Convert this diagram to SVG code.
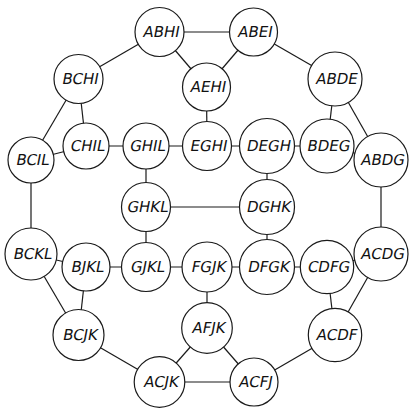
<svg xmlns="http://www.w3.org/2000/svg" width="409" height="408" viewBox="0 0 409 408">
<style>
.e line{stroke:#1a1a1a;stroke-width:1.2}
.n circle{fill:#fff;stroke:#1a1a1a;stroke-width:1.2}
.n text{font-family:"DejaVu Sans",sans-serif;font-style:normal;font-size:15px;text-anchor:middle;fill:#111}
</style>
<rect width="409" height="408" fill="#fff"/>
<g id="connectors" class="e">
<line x1="159.5" y1="32" x2="253.5" y2="32"/>
<line x1="159.5" y1="32" x2="78.5" y2="79"/>
<line x1="159.5" y1="32" x2="206.5" y2="87"/>
<line x1="253.5" y1="32" x2="206.5" y2="87"/>
<line x1="253.5" y1="32" x2="335" y2="79"/>
<line x1="206.5" y1="87" x2="207" y2="146"/>
<line x1="78.5" y1="79" x2="86" y2="146"/>
<line x1="78.5" y1="79" x2="31" y2="160"/>
<line x1="31" y1="160" x2="86" y2="146"/>
<line x1="86" y1="146" x2="146" y2="146"/>
<line x1="146" y1="146" x2="207" y2="146"/>
<line x1="207" y1="146" x2="267" y2="146"/>
<line x1="267" y1="146" x2="327" y2="146"/>
<line x1="335" y1="79" x2="327" y2="146"/>
<line x1="335" y1="79" x2="381" y2="160"/>
<line x1="327" y1="146" x2="381" y2="160"/>
<line x1="146" y1="146" x2="146" y2="207"/>
<line x1="267" y1="146" x2="267" y2="207"/>
<line x1="146" y1="207" x2="267" y2="207"/>
<line x1="31" y1="160" x2="31" y2="254"/>
<line x1="381" y1="160" x2="381" y2="254"/>
<line x1="146" y1="207" x2="146" y2="267"/>
<line x1="267" y1="207" x2="267" y2="267"/>
<line x1="31" y1="254" x2="86" y2="267"/>
<line x1="86" y1="267" x2="146" y2="267"/>
<line x1="146" y1="267" x2="207" y2="267"/>
<line x1="207" y1="267" x2="267" y2="267"/>
<line x1="267" y1="267" x2="327" y2="267"/>
<line x1="327" y1="267" x2="381" y2="254"/>
<line x1="31" y1="254" x2="78.5" y2="335"/>
<line x1="86" y1="267" x2="78.5" y2="335"/>
<line x1="207" y1="267" x2="207" y2="328"/>
<line x1="327" y1="267" x2="335" y2="335"/>
<line x1="381" y1="254" x2="335" y2="335"/>
<line x1="78.5" y1="335" x2="159.5" y2="382"/>
<line x1="207" y1="328" x2="159.5" y2="382"/>
<line x1="207" y1="328" x2="254" y2="382"/>
<line x1="159.5" y1="382" x2="254" y2="382"/>
<line x1="335" y1="335" x2="254" y2="382"/>
</g>
<g id="ABHI" class="n"><circle cx="159.5" cy="32" r="24.5"/><text transform="translate(160.5,37) skewX(-11)">ABHI</text></g>
<g id="ABEI" class="n"><circle cx="253.5" cy="32" r="24"/><text transform="translate(254.5,37) skewX(-11)">ABEI</text></g>
<g id="BCHI" class="n"><circle cx="78.5" cy="79" r="24.5"/><text transform="translate(79.5,84) skewX(-11)">BCHI</text></g>
<g id="AEHI" class="n"><circle cx="206.5" cy="87" r="24"/><text transform="translate(207.5,92) skewX(-11)">AEHI</text></g>
<g id="ABDE" class="n"><circle cx="335" cy="79" r="27"/><text transform="translate(336,84) skewX(-11)">ABDE</text></g>
<g id="BCIL" class="n"><circle cx="31" cy="160" r="23"/><text transform="translate(32,165) skewX(-11)">BCIL</text></g>
<g id="CHIL" class="n"><circle cx="86" cy="146" r="23"/><text transform="translate(87,151) skewX(-11)">CHIL</text></g>
<g id="GHIL" class="n"><circle cx="146" cy="146" r="23"/><text transform="translate(147,151) skewX(-11)">GHIL</text></g>
<g id="EGHI" class="n"><circle cx="207" cy="146" r="24.5"/><text transform="translate(208,151) skewX(-11)">EGHI</text></g>
<g id="DEGH" class="n"><circle cx="267" cy="146" r="27.5"/><text transform="translate(268,151) skewX(-11)">DEGH</text></g>
<g id="BDEG" class="n"><circle cx="327" cy="146" r="27"/><text transform="translate(328,151) skewX(-11)">BDEG</text></g>
<g id="ABDG" class="n"><circle cx="381" cy="160" r="27"/><text transform="translate(382,165) skewX(-11)">ABDG</text></g>
<g id="GHKL" class="n"><circle cx="146" cy="207" r="24.5"/><text transform="translate(147,212) skewX(-11)">GHKL</text></g>
<g id="DGHK" class="n"><circle cx="267" cy="207" r="27.5"/><text transform="translate(268,212) skewX(-11)">DGHK</text></g>
<g id="BCKL" class="n"><circle cx="31" cy="254" r="26"/><text transform="translate(32,259) skewX(-11)">BCKL</text></g>
<g id="BJKL" class="n"><circle cx="86" cy="267" r="24"/><text transform="translate(87,272) skewX(-11)">BJKL</text></g>
<g id="GJKL" class="n"><circle cx="146" cy="267" r="24.5"/><text transform="translate(147,272) skewX(-11)">GJKL</text></g>
<g id="FGJK" class="n"><circle cx="207" cy="267" r="25"/><text transform="translate(208,272) skewX(-11)">FGJK</text></g>
<g id="DFGK" class="n"><circle cx="267" cy="267" r="27.5"/><text transform="translate(268,272) skewX(-11)">DFGK</text></g>
<g id="CDFG" class="n"><circle cx="327" cy="267" r="26.7"/><text transform="translate(328,272) skewX(-11)">CDFG</text></g>
<g id="ACDG" class="n"><circle cx="381" cy="254" r="27"/><text transform="translate(382,259) skewX(-11)">ACDG</text></g>
<g id="BCJK" class="n"><circle cx="78.5" cy="335" r="25.5"/><text transform="translate(79.5,340) skewX(-11)">BCJK</text></g>
<g id="AFJK" class="n"><circle cx="207" cy="328" r="25.3"/><text transform="translate(208,333) skewX(-11)">AFJK</text></g>
<g id="ACDF" class="n"><circle cx="335" cy="335" r="26.7"/><text transform="translate(336,340) skewX(-11)">ACDF</text></g>
<g id="ACJK" class="n"><circle cx="159.5" cy="382" r="25.3"/><text transform="translate(160.5,387) skewX(-11)">ACJK</text></g>
<g id="ACFJ" class="n"><circle cx="254" cy="382" r="24"/><text transform="translate(255,387) skewX(-11)">ACFJ</text></g>
</svg>
